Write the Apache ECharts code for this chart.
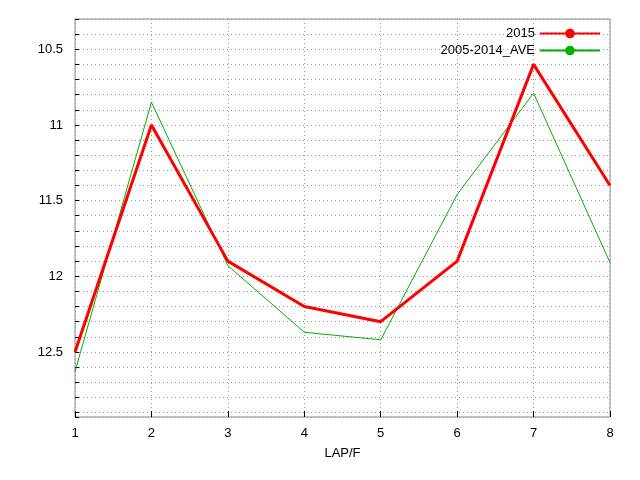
<!DOCTYPE html>
<html><head><meta charset="utf-8">
<script src="https://cdn.jsdelivr.net/npm/echarts@6/dist/echarts.min.js"></script>
<style>html,body{margin:0;padding:0;background:#fff}#c{width:640px;height:480px}</style>
</head><body><div id="c"></div>
<script>
const laps = [1,2,3,4,5,6,7,8];
const s2015 = [12.5,11.0,11.9,12.2,12.3,11.9,10.6,11.4];
const sAve = [12.63,10.85,11.93,12.37,12.42,11.46,10.79,11.91];
const seriesNames = ['2015','2005-2014_AVE'];
const chart = echarts.init(document.getElementById('c'));
const font = {fontFamily:'Liberation Sans, Arial', fontSize:13, color:'#000'};
const dotted = {show:true,lineStyle:{color:'#999',type:[1,3],width:1}};
chart.setOption({
  animation:false,
  grid:{left:75,right:30,top:19,bottom:63,show:true,borderColor:'#888',borderWidth:1},
  legend:{right:34,top:22,orient:'vertical',align:'right',itemWidth:60,itemHeight:12,itemGap:4,
    textStyle:font,
    data:seriesNames.map(n=>({name:n}))},
  xAxis:{type:'value',min:1,max:8,interval:1,name:'LAP/F',nameLocation:'middle',nameGap:30,nameTextStyle:font,
    axisLabel:Object.assign({margin:10},font),axisLine:{show:false},
    axisTick:{inside:true,length:6,lineStyle:{color:'#000'}},splitLine:dotted},
  yAxis:{type:'value',inverse:true,min:10.3,max:12.93,interval:0.1,
    axisLabel:Object.assign({margin:12,formatter:v=>{const d=v*2;return Math.abs(d-Math.round(d))<1e-6?String(+v.toFixed(1)):'';}},font),
    axisLine:{show:false},axisTick:{inside:true,length:4,lineStyle:{color:'#000'}},splitLine:dotted},
  series:[
    {name:seriesNames[0],type:'line',data:laps.map((x,i)=>[x,s2015[i]]),symbol:'none',lineStyle:{color:'#ff0000',width:3},itemStyle:{color:'#ff0000'},z:3},
    {name:seriesNames[1],type:'line',data:laps.map((x,i)=>[x,sAve[i]]),symbol:'none',lineStyle:{color:'#00b000',width:1},itemStyle:{color:'#00b000'},z:2}
  ]
});
</script></body></html>
